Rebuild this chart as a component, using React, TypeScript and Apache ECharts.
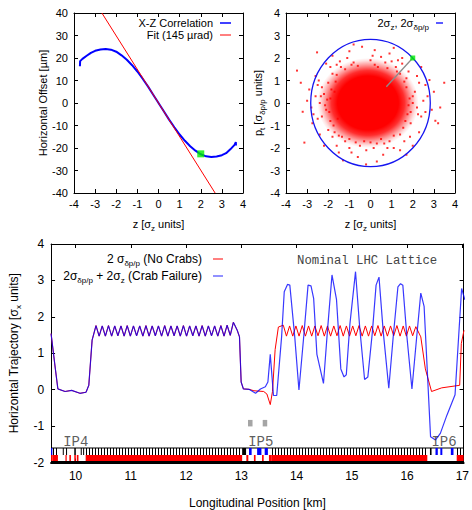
import React, { useEffect, useRef } from "react";
import * as echarts from "echarts";

const FONT = "'Liberation Sans', Arial, Helvetica, sans-serif";
const MONO = "'Liberation Mono', 'DejaVu Sans Mono', monospace";

// ---------------- Top-left: X-Z correlation ----------------
const xzCorrelation: [number, number][] = [
  [-3.72, 16.3], [-3.71, 18.6], [-3.6, 19.6], [-3.4, 21.0], [-3.2, 22.3], [-3.0, 23.2],
  [-2.75, 23.8], [-2.5, 24.0], [-2.25, 23.7], [-2.0, 22.8], [-1.75, 21.2], [-1.5, 19.2],
  [-1.25, 16.8], [-1.0, 14.0], [-0.75, 10.8], [-0.5, 7.4], [-0.25, 3.7], [0, 0],
  [0.25, -3.7], [0.5, -7.4], [0.75, -10.8], [1.0, -14.0], [1.25, -16.8], [1.5, -19.2],
  [1.75, -21.2], [2.0, -22.8], [2.25, -23.7], [2.5, -24.0], [2.75, -23.8], [3.0, -23.2],
  [3.2, -22.3], [3.4, -20.6], [3.6, -18.6], [3.66, -17.4], [3.67, -18.9],
];
const fitLine: [number, number][] = [[-2.68, 40], [2.68, -40]];
const xzMarker: [number, number][] = [[2.0, -22.6]];

// ---------------- Top-right: bunch in z / pt ----------------
// [centre z, centre pt, half-width z, half-height pt]
const bunchEnvelope: number[][] = [[0, 0, 2.83, 2.83]];
// density envelope of the particle cloud: [cz, cp, rz, rp]
const cloudDensity: number[][] = [[-0.12, 0.0, 2.4, 2.0]];
// relative radius -> opacity of the cloud density
const cloudProfile: [number, number][] = [[0, 1], [0.6, 1], [0.72, 0.82], [0.84, 0.42], [0.94, 0.12], [1, 0]];
const cloudFringe: [number, number][] = [
  [-3.48, 1.44], [-2.53, 2.25], [3.49, 0.9], [3.07, -0.79], [-0.21, -2.73], [-3.21, -0.39],
  [-3.13, -1.76], [2.79, 1.02], [3.2, -0.9], [1.87, -1.5], [-2.9, 0.6], [-2.75, -0.9],
  [-2.6, 1.2], [-2.2, -1.9], [-1.8, 2.1], [-1.0, 2.3], [0.2, 2.35], [0.9, 2.2], [1.5, 2.0],
  [2.4, 1.6], [2.7, 0.3], [2.6, -0.4], [2.3, -1.3], [1.4, -2.1], [0.6, -2.3], [-0.6, -2.4],
  [-1.5, -2.2], [-2.4, -1.4], [-3.0, 0.1], [-2.8, -0.2], [3.0, 0.5], [-1.3, -2.55], [0.3, -2.6],
  [1.1, 2.45], [-0.4, 2.5], [2.0, -1.9], [-2.1, 1.75], [2.9, -0.3],
  [-2.2, 0.4], [-2.1, -0.3], [-2.0, 0.9], [-1.9, -0.8], [-1.8, 1.3], [-1.7, -1.3], [-1.4, 1.6],
  [-1.2, -1.7], [-0.8, 1.8], [-0.5, -1.9], [0.0, 1.9], [0.3, -1.8], [0.7, 1.8], [0.9, -1.7],
  [1.2, 1.6], [1.4, -1.4], [1.7, 1.1], [1.9, -0.9], [2.1, 0.5], [2.2, -0.2], [2.0, 0.0],
  [-2.4, 0.0], [-2.3, -0.6], [-2.3, 0.7], [-1.6, 1.7], [-1.0, -2.0], [0.5, 2.05], [1.6, -1.7],
  [1.8, 1.4], [2.3, 0.9], [-2.5, -0.7], [-2.0, -1.2], [-0.2, -2.1], [0.1, 2.1], [1.1, -2.0],
  [-1.1, 2.0], [2.4, -0.6], [-2.6, 0.3], [1.5, 1.75], [-1.9, 1.6], [-2.45, 1.0], [2.5, 0.1],
  [-0.9, -2.2], [0.8, -2.0], [-2.7, -0.5], [2.2, 1.2], [-1.6, -1.9], [1.3, 1.9],
  [-1.9, 0.2], [-1.95, -0.4], [-1.85, 0.6], [-1.75, -1.0], [-1.6, 1.25], [-1.5, -1.45],
  [-1.2, 1.5], [-1.0, -1.6], [-0.6, 1.65], [-0.3, -1.7], [0.2, 1.7], [0.5, -1.6], [0.8, 1.55],
  [1.1, -1.45], [1.4, 1.3], [1.55, -1.1], [1.7, 0.7], [1.75, -0.5], [1.85, 0.2], [1.8, -0.1],
  [-2.05, 0.15], [-1.65, 0.95], [-1.55, -0.7], [1.6, 0.95], [1.65, -0.8], [-0.9, 1.7],
  [0.0, -1.75], [0.35, 1.6], [-1.35, -1.5], [1.25, 1.4], [-2.15, -0.1], [2.0, 0.3], [-1.7, 0.5],
  [1.9, -0.4], [-0.7, -1.75], [0.65, -1.8], [-2.35, 0.3], [2.25, -0.5], [-1.45, 1.85], [1.0, 1.85],
  [-1.8, -1.5], [0.15, -2.0], [-2.5, 0.8], [2.6, 0.8], [-3.3, 0.9], [3.3, -0.2], [-0.8, 2.6],
  [1.7, -2.3],
];
const envelopeRay: [number, number][] = [[0.75, 0.72], [2.0, 2.0]];
const envelopeMarker: [number, number][] = [[2.0, 2.0]];

// ---------------- Bottom: trajectory along the ring ----------------
const trackCommon: [number, number][] = [
  [9.557, 1.54], [9.628, 0.65], [9.68, 0.02], [9.81, -0.05], [9.93, -0.02], [10.08, -0.1],
  [10.19, -0.07], [10.24, 0.12], [10.3, 1.36], [10.37, 1.76], [10.427, 1.47], [10.483, 1.75],
  [10.54, 1.47], [10.596, 1.76], [10.653, 1.47], [10.709, 1.75], [10.766, 1.48], [10.822, 1.75],
  [10.879, 1.47], [10.935, 1.76], [10.992, 1.47], [11.048, 1.75], [11.105, 1.48], [11.161, 1.75],
  [11.218, 1.47], [11.274, 1.76], [11.331, 1.47], [11.387, 1.75], [11.444, 1.48], [11.5, 1.75],
  [11.557, 1.47], [11.613, 1.76], [11.67, 1.47], [11.726, 1.75], [11.783, 1.48], [11.839, 1.75],
  [11.896, 1.47], [11.952, 1.76], [12.009, 1.47], [12.065, 1.75], [12.122, 1.48], [12.178, 1.75],
  [12.235, 1.47], [12.291, 1.76], [12.348, 1.47], [12.404, 1.75], [12.461, 1.48], [12.517, 1.75],
  [12.574, 1.47], [12.63, 1.76], [12.687, 1.47], [12.743, 1.77], [12.8, 1.49], [12.856, 1.85],
  [12.926, 1.63], [12.967, 1.45], [12.997, 0.21], [13.038, 0.02], [13.139, 0.01],
];
const trackNoCrabTail: [number, number][] = [
  [13.228, -0.03], [13.405, -0.05], [13.463, -0.12], [13.524, -0.41], [13.564, -0.05],
  [13.612, 1.1], [13.671, 1.72], [13.76, 1.77], [13.817, 1.47], [13.874, 1.75], [13.931, 1.47],
  [13.988, 1.75], [14.045, 1.47], [14.103, 1.76], [14.16, 1.47], [14.217, 1.75], [14.274, 1.47],
  [14.331, 1.75], [14.388, 1.48], [14.445, 1.76], [14.502, 1.47], [14.559, 1.75], [14.616, 1.47],
  [14.674, 1.75], [14.731, 1.48], [14.788, 1.76], [14.845, 1.47], [14.902, 1.75], [14.959, 1.47],
  [15.016, 1.75], [15.073, 1.48], [15.13, 1.76], [15.187, 1.47], [15.245, 1.75], [15.302, 1.47],
  [15.359, 1.75], [15.416, 1.48], [15.473, 1.76], [15.53, 1.47], [15.587, 1.75], [15.644, 1.47],
  [15.701, 1.75], [15.758, 1.48], [15.816, 1.76], [15.873, 1.47], [15.93, 1.75], [15.987, 1.47],
  [16.044, 1.75], [16.101, 1.48], [16.158, 1.73], [16.248, 1.45], [16.331, 0.57], [16.443, -0.05],
  [16.627, 0.05], [16.952, 0.12], [16.982, 1.27], [17.03, 1.63],
];
const trackCrabFailTail: [number, number][] = [
  [13.258, -0.1], [13.346, 0.02], [13.435, 0.08], [13.481, 0.21], [13.524, 0.97], [13.582, -0.16],
  [13.641, -0.16], [13.729, 1.45], [13.777, 2.69], [13.836, 2.89], [13.878, 2.87], [13.967, 1.45],
  [14.043, -0.01], [14.132, 1.5], [14.208, 2.87], [14.261, 2.85], [14.309, 2.51], [14.368, 0.97],
  [14.487, 0.17], [14.558, 1.6], [14.641, 3.15], [14.723, 2.47], [14.801, 0.57], [14.859, 0.35],
  [14.9, 0.41], [14.965, 1.8], [15.067, 3.24], [15.143, 1.7], [15.231, 0.28], [15.29, 0.35],
  [15.373, 1.6], [15.439, 2.87], [15.492, 3.09], [15.568, 1.6], [15.669, 0.04], [15.746, 1.4],
  [15.834, 2.82], [15.882, 2.91], [15.923, 2.87], [15.994, 1.5], [16.088, 0.02], [16.171, 1.4],
  [16.248, 2.65], [16.308, 2.29], [16.425, -1.29], [16.514, -1.38], [16.602, -1.2], [16.721, -0.7],
  [16.868, -0.14], [16.987, 2.78], [17.046, 2.47],
];
const gapMarkers: [number, number][] = [[13.162, -0.92], [13.428, -0.92]];
const ipNames = ["IP4", "IP5", "IP6"];
const ipPositions = [10.005, 13.352, 16.668];
const ipLabelLevel = -1.44;

// lattice strip: [start km, end km]
const latticeArcs: [number, number][] = [
  [9.58, 9.681], [10.183, 13.015], [13.552, 16.366], [16.898, 17.075],
];
const latticeRedBlocks: [number, number][] = [
  [9.54, 9.58], [9.817, 9.84], [9.888, 9.917], [9.977, 10.005], [10.023, 10.053],
  [13.091, 13.127], [13.228, 13.258], [13.375, 13.405], [13.5, 13.552],
];
const latticeBlueBlocks: [number, number][] = [
  [9.54, 9.58], [13.139, 13.187], [13.286, 13.364], [13.423, 13.481],
  [16.514, 16.556], [16.602, 16.638], [16.792, 16.84], [17.028, 17.064],
];
const latticeBlackBlocks: [number, number][] = [
  [9.769, 9.787], [9.828, 9.846], [9.977, 10.005], [10.094, 10.112], [10.137, 10.154],
  [13.015, 13.086], [16.414, 16.443],
];

const KIND_ARC = 0, KIND_RED = 1, KIND_BLUE = 2, KIND_BLACK = 3, KIND_FRAME = 4;
const latticeData: number[][] = [
  [9.0, 18.0, KIND_FRAME],
  ...latticeArcs.map((s) => [s[0], s[1], KIND_ARC]),
  ...latticeRedBlocks.map((s) => [s[0], s[1], KIND_RED]),
  ...latticeBlackBlocks.map((s) => [s[0], s[1], KIND_BLACK]),
  ...latticeBlueBlocks.map((s) => [s[0], s[1], KIND_BLUE]),
];

const richStyles = (size: number) => ({
  n: { fontSize: size, fontFamily: FONT, color: "#000", lineHeight: size + 5 },
  s: { fontSize: Math.round(size * 0.7), fontFamily: FONT, color: "#000", verticalAlign: "bottom" as const },
});

function mainAxis(gridIndex: number, fs: number, extra: any) {
  return {
    type: "value",
    gridIndex,
    axisLine: { show: true, onZero: false, lineStyle: { color: "#000", width: 1 } },
    axisTick: { show: true, inside: true, length: 4, lineStyle: { color: "#000", width: 1 } },
    splitLine: { show: false },
    axisLabel: { color: "#000", fontFamily: FONT, fontSize: fs, margin: 6 },
    nameLocation: "middle",
    nameTextStyle: { rich: richStyles(fs) },
    ...extra,
  };
}
function mirrorAxis(gridIndex: number, position: string, extra: any) {
  return {
    type: "value",
    gridIndex,
    position,
    axisLine: { show: true, onZero: false, lineStyle: { color: "#000", width: 1 } },
    axisTick: { show: true, inside: true, length: 4, lineStyle: { color: "#000", width: 1 } },
    splitLine: { show: false },
    axisLabel: { show: false },
    ...extra,
  };
}

const intLabel = (v: number) => (Math.abs(v - Math.round(v)) < 1e-6 ? String(Math.round(v)) : "");

export default function App() {
  const ref = useRef<HTMLDivElement>(null);
  useEffect(() => {
    if (!ref.current) return;
    const chart = echarts.init(ref.current, undefined, { renderer: "svg" });
    const bottomX = { min: 9.557, max: 17.023, minInterval: 1, maxInterval: 1 };

    const option: any = {
      animation: false,
      backgroundColor: "#fff",
      grid: [
        { left: 74, top: 13, width: 169, height: 180 },
        { left: 286, top: 13, width: 169, height: 180 },
        { left: 48, top: 244, width: 421, height: 226 },
      ],
      xAxis: [
        mainAxis(0, 11, { min: -4, max: 4, interval: 1, name: "{n|z [σ}{s|z}{n| units]}", nameGap: 23, axisLabel: { color: "#000", fontFamily: FONT, fontSize: 11, margin: 5 } }),
        mirrorAxis(0, "top", { min: -4, max: 4, interval: 1 }),
        mainAxis(1, 11, { min: -4, max: 4, interval: 1, name: "{n|z [σ}{s|z}{n| units]}", nameGap: 23, axisLabel: { color: "#000", fontFamily: FONT, fontSize: 11, margin: 5 } }),
        mirrorAxis(1, "top", { min: -4, max: 4, interval: 1 }),
        mainAxis(2, 12, {
          ...bottomX,
          name: "{n|Longitudinal Position [km]}",
          nameGap: 32,
          axisLine: { show: true, onZero: false, lineStyle: { color: "#000", width: 2 } },
          axisLabel: { color: "#000", fontFamily: FONT, fontSize: 12, margin: 7, formatter: intLabel },
        }),
        mirrorAxis(2, "top", bottomX),
      ],
      yAxis: [
        mainAxis(0, 11, { min: -40, max: 40, interval: 10, name: "{n|Horizontal Offset [µm]}", nameGap: 22 }),
        mirrorAxis(0, "right", { min: -40, max: 40, interval: 10 }),
        mainAxis(1, 11, { min: -4, max: 4, interval: 1, name: "{n|p}{s|t}{n| [σ}{s|δp/p}{n| units]}", nameGap: 8 }),
        mirrorAxis(1, "right", { min: -4, max: 4, interval: 1 }),
        mainAxis(2, 12, { min: -2, max: 4, interval: 1, name: "{n|Horizontal Trajectory [σ}{s|x}{n| units]}", nameGap: 20, axisLabel: { color: "#000", fontFamily: FONT, fontSize: 12, margin: 7 } }),
        mirrorAxis(2, "right", { min: -2, max: 4, interval: 1 }),
      ],
      series: [
        // ---- top-left
        {
          type: "line", xAxisIndex: 0, yAxisIndex: 0, data: xzCorrelation, showSymbol: false, symbol: "none",
          lineStyle: { color: "#0000ff", width: 2 }, z: 2,
        },
        {
          type: "line", xAxisIndex: 0, yAxisIndex: 0, data: fitLine, showSymbol: false, symbol: "none",
          lineStyle: { color: "#ff0000", width: 1 }, z: 3,
        },
        {
          type: "scatter", xAxisIndex: 0, yAxisIndex: 0, data: xzMarker, symbol: "rect", symbolSize: 7,
          itemStyle: { color: "#00ee00" }, z: 4,
        },
        // ---- top-right
        {
          type: "custom", xAxisIndex: 2, yAxisIndex: 2, data: cloudDensity, z: 2,
          renderItem: (params: any, api: any) => {
            const c = api.coord([api.value(0), api.value(1)]);
            const s = api.size([api.value(2), api.value(3)]);
            return {
              type: "ellipse",
              shape: { cx: c[0], cy: c[1], rx: s[0], ry: s[1] },
              style: {
                fill: new echarts.graphic.RadialGradient(
                  0.5, 0.5, 0.5,
                  cloudProfile.map(([o, a]) => ({ offset: o, color: `rgba(255,0,0,${a})` }))
                ),
              },
            };
          },
        },
        {
          type: "scatter", xAxisIndex: 2, yAxisIndex: 2, data: cloudFringe, symbol: "rect", symbolSize: 2,
          itemStyle: { color: "#ff0000" }, z: 3,
        },
        {
          type: "line", xAxisIndex: 2, yAxisIndex: 2, data: envelopeRay, symbol: "none",
          lineStyle: { color: "#8c8c8c", width: 1.3 }, z: 4,
        },
        {
          type: "custom", xAxisIndex: 2, yAxisIndex: 2, data: bunchEnvelope, z: 5,
          renderItem: (params: any, api: any) => {
            const c = api.coord([api.value(0), api.value(1)]);
            const s = api.size([api.value(2), api.value(3)]);
            return {
              type: "ellipse",
              shape: { cx: c[0], cy: c[1], rx: s[0], ry: s[1] },
              style: { fill: "none", stroke: "#1515f0", lineWidth: 1.3 },
            };
          },
        },
        {
          type: "scatter", xAxisIndex: 2, yAxisIndex: 2, data: envelopeMarker, symbol: "rect", symbolSize: 5,
          itemStyle: { color: "#00ee00" }, z: 6,
        },
        // ---- bottom
        {
          type: "custom", xAxisIndex: 4, yAxisIndex: 4, data: latticeData, encode: { x: [0, 1], y: 2 }, z: 2,
          renderItem: (params: any, api: any) => {
            const cs = params.coordSys;
            const left = cs.x, right = cs.x + cs.width;
            const kind = api.value(2);
            let x0 = api.coord([api.value(0), -1.6])[0];
            let x1 = api.coord([api.value(1), -1.6])[0];
            x0 = Math.max(x0, left);
            x1 = Math.min(x1, right);
            if (x1 <= x0) return null;
            const yTop = Math.round(api.coord([10, -1.6])[1]);
            const yMid = Math.round(api.coord([10, -1.79])[1]);
            const yBot = Math.round(api.coord([10, -1.97])[1]);
            const yAx = api.coord([10, -2])[1];
            const children: any[] = [];
            if (kind === KIND_FRAME) {
              children.push({ type: "rect", shape: { x: left, y: yTop - 0.5, width: right - left, height: 1 }, style: { fill: "#000" } });
              children.push({ type: "rect", shape: { x: left, y: yBot, width: right - left, height: yAx - yBot }, style: { fill: "#000" } });
            } else if (kind === KIND_ARC) {
              children.push({ type: "rect", shape: { x: x0, y: yMid, width: x1 - x0, height: yBot - yMid }, style: { fill: "#ff0000" } });
              const start = Math.ceil(x0);
              for (let x = start; x < x1 - 0.5; x += 3) {
                children.push({ type: "rect", shape: { x, y: yTop, width: 1, height: yMid - yTop }, style: { fill: "#000" } });
              }
            } else if (kind === KIND_RED) {
              children.push({ type: "rect", shape: { x: x0, y: yMid, width: x1 - x0, height: yBot - yMid }, style: { fill: "#ff0000" } });
            } else if (kind === KIND_BLUE) {
              children.push({ type: "rect", shape: { x: x0, y: yTop, width: x1 - x0, height: yMid - yTop }, style: { fill: "#0000ff" } });
            } else if (kind === KIND_BLACK) {
              children.push({ type: "rect", shape: { x: x0, y: yTop, width: Math.max(1, x1 - x0), height: yMid - yTop }, style: { fill: "#000" } });
            }
            return { type: "group", children };
          },
        },
        {
          type: "line", xAxisIndex: 4, yAxisIndex: 4, data: [...trackCommon, ...trackNoCrabTail], symbol: "none",
          lineStyle: { color: "#ff0000", width: 1 }, z: 3,
        },
        {
          type: "line", xAxisIndex: 4, yAxisIndex: 4, data: [...trackCommon, ...trackCrabFailTail], symbol: "none",
          lineStyle: { color: "rgba(0,0,255,0.78)", width: 1.2 }, z: 4,
        },
        {
          type: "scatter", xAxisIndex: 4, yAxisIndex: 4, data: gapMarkers, symbol: "rect", symbolSize: [4.5, 6.5],
          itemStyle: { color: "#8f8f8f" }, z: 4,
        },
        {
          type: "scatter", xAxisIndex: 4, yAxisIndex: 4, symbolSize: 0, z: 5,
          data: ipNames.map((n, i) => ({ name: n, value: [ipPositions[i], ipLabelLevel] })),
          label: { show: true, position: "inside", formatter: "{b}", fontFamily: MONO, fontSize: 14, color: "#333" },
        },
      ],
      graphic: [
        // top-left legend
        { type: "text", style: { x: 213, y: 23, text: "X-Z Correlation", align: "right", verticalAlign: "middle", fontFamily: FONT, fontSize: 11, fill: "#000" } },
        { type: "line", shape: { x1: 220, y1: 23, x2: 231, y2: 23 }, style: { stroke: "#0000ff", lineWidth: 1.5 } },
        { type: "text", style: { x: 213, y: 35, text: "Fit (145 µrad)", align: "right", verticalAlign: "middle", fontFamily: FONT, fontSize: 11, fill: "#000" } },
        { type: "line", shape: { x1: 220, y1: 35, x2: 231, y2: 35 }, style: { stroke: "#ff0000", lineWidth: 1 } },
        // top-right legend
        { type: "text", style: { x: 429, y: 23, text: "{n|2σ}{s|z}{n|, 2σ}{s|δp/p}", rich: richStyles(11), align: "right", verticalAlign: "middle" } },
        { type: "line", shape: { x1: 436, y1: 23, x2: 443, y2: 23 }, style: { stroke: "#0000ff", lineWidth: 1.3 } },
        // bottom legend
        { type: "text", style: { x: 202, y: 259, text: "{n|2 σ}{s|δp/p}{n| (No Crabs)}", rich: richStyles(12), align: "right", verticalAlign: "middle" } },
        { type: "line", shape: { x1: 213, y1: 259, x2: 223, y2: 259 }, style: { stroke: "#ff0000", lineWidth: 1 } },
        { type: "text", style: { x: 202, y: 276, text: "{n|2σ}{s|δp/p}{n| + 2σ}{s|z}{n| (Crab Failure)}", rich: richStyles(12), align: "right", verticalAlign: "middle" } },
        { type: "line", shape: { x1: 213, y1: 276, x2: 223, y2: 276 }, style: { stroke: "rgba(60,60,255,0.75)", lineWidth: 1.5 } },
        { type: "text", style: { x: 297, y: 261, text: "Nominal LHC Lattice", align: "left", verticalAlign: "middle", fontFamily: MONO, fontSize: 12.3, fill: "#444" } },
      ],
    };
    chart.setOption(option);
    return () => chart.dispose();
  }, []);
  return <div ref={ref} style={{ position: "fixed", left: 0, top: 0, width: 472, height: 510, background: "#fff" }} />;
}
